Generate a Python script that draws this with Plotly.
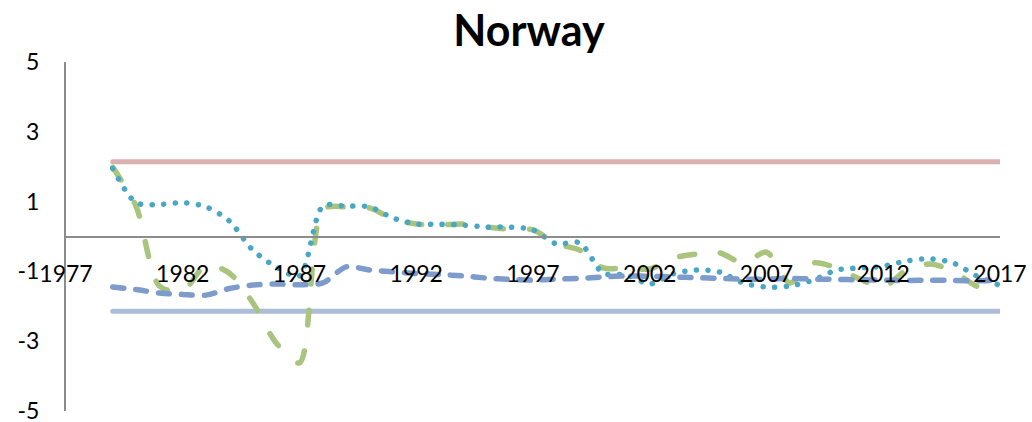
import plotly.graph_objects as go

# Yearly series, 1979-2017
years = list(range(1979, 2018))

series_green = [1.98, 0.87, -1.42, -1.56, -0.82, -1.05, -1.90, -3.05, -3.62, 0.78,
                0.85, 0.82, 0.50, 0.36, 0.33, 0.36, 0.27, 0.21, 0.19, -0.21,
                -0.39, -0.90, -0.90, -0.93, -0.62, -0.50, -0.47, -0.76, -0.45, -1.33,
                -0.76, -0.90, -1.22, -1.45, -0.96, -0.79, -0.99, -1.42, -1.50]

series_teal = [1.95, 0.97, 0.92, 0.97, 0.85, 0.44, -0.39, -0.87, -1.13, 0.87,
               0.87, 0.85, 0.53, 0.36, 0.35, 0.33, 0.27, 0.27, 0.19, -0.21,
               -0.18, -1.05, -1.10, -1.36, -1.07, -0.96, -1.02, -1.33, -1.45, -1.42,
               -1.25, -0.96, -0.90, -0.85, -0.70, -0.64, -0.76, -1.13, -1.40]

series_blue = [-1.45, -1.52, -1.62, -1.66, -1.68, -1.49, -1.39, -1.36, -1.38, -1.33,
               -0.87, -0.96, -1.01, -1.06, -1.09, -1.13, -1.19, -1.23, -1.25, -1.22,
               -1.20, -1.16, -1.13, -1.14, -1.16, -1.18, -1.20, -1.22, -1.22, -1.20,
               -1.22, -1.23, -1.24, -1.25, -1.26, -1.25, -1.26, -1.27, -1.25]

# Horizontal reference bands
band_years = [1979, 2017]
upper_band = [2.14, 2.14]
lower_band = [-2.14, -2.14]

x_tick_years = [1977, 1982, 1987, 1992, 1997, 2002, 2007, 2012, 2017]
y_ticks = [-5, -3, -1, 1, 3, 5]
y_tick_labels = ["-5", "-3", "-1", "1", "3", "5"]

fig = go.Figure()

fig.add_trace(go.Scatter(x=band_years, y=upper_band, mode="lines",
                         line=dict(color="#dbb0b0", width=5)))
fig.add_trace(go.Scatter(x=band_years, y=lower_band, mode="lines",
                         line=dict(color="#adbdd9", width=5)))
fig.add_trace(go.Scatter(x=years, y=series_green, mode="lines",
                         line=dict(color="#a8c47d", width=5.5, shape="spline",
                                   smoothing=0.8, dash="15px,26px")))
fig.add_trace(go.Scatter(x=years, y=series_teal, mode="lines",
                         line=dict(color="#47a7c4", width=5.5, shape="spline",
                                   smoothing=0.8, dash="0.1px,11.5px")))
fig.add_trace(go.Scatter(x=years, y=series_blue, mode="lines",
                         line=dict(color="#7d9bcb", width=5.5, shape="spline",
                                   smoothing=0.8, dash="11px,12px")))

tick_font = dict(family="Lato, 'Liberation Sans', sans-serif", size=23, color="#000000")

fig.update_layout(
    width=1032, height=422,
    margin=dict(l=66, r=32, t=62, b=11),
    paper_bgcolor="white", plot_bgcolor="white",
    showlegend=False,
    title=dict(text="<b>Norway</b>", x=529 / 1032, xanchor="center",
               y=1 - 31 / 422, yanchor="middle", automargin=False,
               font=dict(family="Lato, 'Liberation Sans', sans-serif", size=43, color="#000000")),
    xaxis=dict(range=[1977, 2017], tickvals=x_tick_years,
               ticktext=[str(v) for v in x_tick_years],
               showgrid=False, zeroline=False, showline=True,
               linecolor="#8c8c8c", linewidth=2, ticks="",
               anchor="free", position=0.5, ticklabelstandoff=17,
               ticklabeloverflow="allow", automargin=False, tickfont=tick_font),
    yaxis=dict(range=[-5, 5], tickvals=y_ticks, ticktext=y_tick_labels,
               showgrid=False, zeroline=False, showline=True,
               linecolor="#8c8c8c", linewidth=2, ticks="",
               ticklabelstandoff=20, ticklabeloverflow="allow",
               automargin=False, tickfont=tick_font),
)

# round line caps turn the dash patterns into rounded dashes and dots
post = """
document.querySelectorAll('.scatterlayer path.js-line').forEach(function(p){
  p.style.strokeLinecap = 'round';
});
"""

fig.write_html("out.html", post_script=post)
